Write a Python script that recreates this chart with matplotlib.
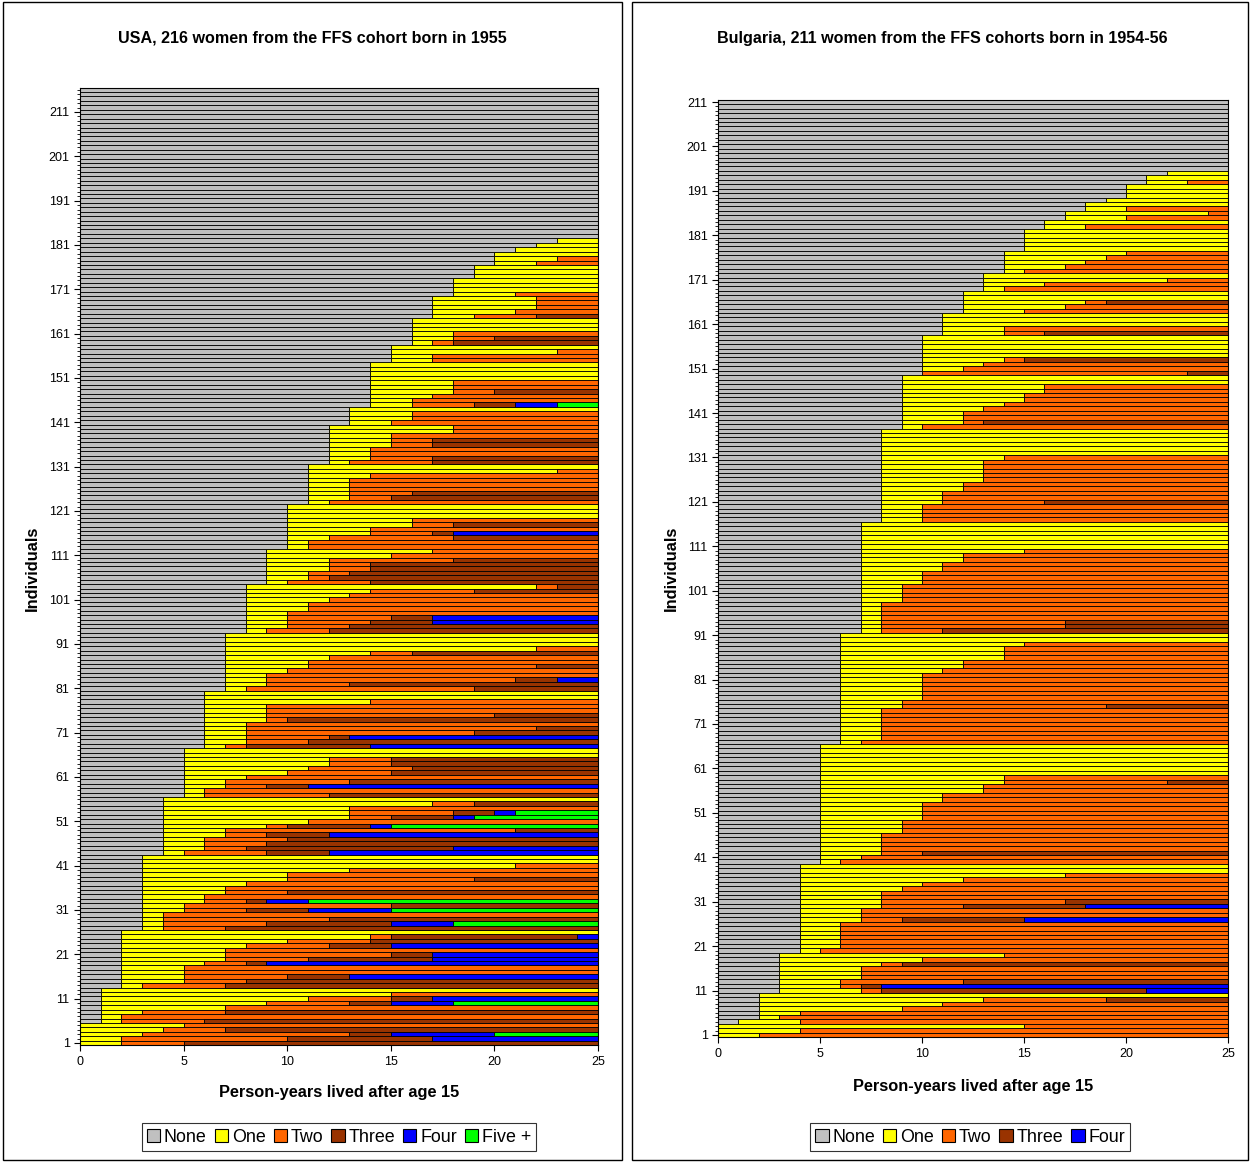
import matplotlib
matplotlib.use('Agg')
import matplotlib.pyplot as plt
from matplotlib.patches import Rectangle, Patch
import numpy as np

plt.rcParams['font.family'] = ['Liberation Sans', 'DejaVu Sans']

# parity states and colours
state_names = ['None', 'One', 'Two', 'Three', 'Four', 'Five +']
state_colors = ['#C0C0C0', '#FFFF00', '#FF6600', '#993300', '#0000FF', '#00FF00']

# USA: years after age 15 at each birth, one string per woman (row 1 upward)
usa_births = [
    "0 2 5", "0 2 10 17", "0 3 13 15 20", "0 4 7", "0 5",
    "1 2 6", "1 2", "1 3 7", "1 7", "1 9 13 15 18", "1 11 15 17", "1 15", "1",
    "2 3 7", "2 5 8", "2 5 10 13", "2 5", "2 5", "2 6 8 9", "2 7 11 17", "2 7 15 17",
    "2 7", "2 8 12 15", "2 10 14", "2 14 15 24", "2",
    "3 4 7", "3 4 9 15 18", "3 4 12", "3 4", "3 5 8 11 15", "3 5 15", "3 6 8 9 11",
    "3 6", "3 7 10", "3 7", "3 8", "3 10 19", "3 10", "3 13", "3 21", "3", "3",
    "4 5 9 12", "4 6 8 18", "4 6 9", "4 6 10", "4 7 9 12", "4 7 21", "4 9 10 14 15",
    "4 11", "4 13 15 18 19", "4 13 18 20 21", "4 13", "4 17 19", "4",
    "5 6 12", "5 6", "5 7 9 11", "5 7 13", "5 8", "5 10 15", "5 11 16", "5 12 15",
    "5 12 15", "5", "5",
    "6 7 8 14", "6 8 11", "6 8 12 13", "6 8 19", "6 8 22", "6 8", "6 9 10", "6 9 20",
    "6 9", "6 9", "6 14", "6", "6",
    "7 8 19", "7 9 13", "7 9 21 23", "7 9", "7 10", "7 11 22", "7 11", "7 12",
    "7 14 16", "7 22", "7", "7", "7",
    "8 9 12", "8 10 13", "8 10 14 17", "8 10 15 17", "8 10", "8 11", "8 11", "8 12",
    "8 13", "8 14 19", "8 22 23",
    "9 10 14", "9 11 12", "9 11 13", "9 12 14", "9 12 14", "9 12 18", "9 15", "9 17",
    "10 11", "10 11", "10 12 18", "10 14 17 18", "10 14", "10 16 18", "10 16",
    "10", "10", "10",
    "11 12", "11 13 15", "11 13 16", "11 13", "11 13", "11 13", "11 14", "11 23", "11",
    "12 13 17", "12 14 17", "12 14", "12 14", "12 15 17", "12 15 17", "12 15",
    "12 18", "12 18",
    "13 15", "13 16", "13 16", "13",
    "14 16 19 21 23", "14 16", "14 17", "14 18 20", "14 18", "14 18",
    "14", "14", "14", "14",
    "15 17", "15 17", "15 23", "15",
    "16 17 18", "16 18 20", "16 18", "16", "16", "16",
    "17 19 22", "17 21", "17 22", "17 22", "17 22",
    "18 21", "18", "18", "18",
    "19", "19", "19",
    "20 22", "20 23", "20", "21", "22", "23",
]
usa_childless = 34

# Bulgaria
bg_births = [
    "0 2", "0 4", "0 15", "1 4",
    "2 3", "2 4", "2 9", "2 11", "2 13 19", "2",
    "3 7 8 21", "3 6 7 8", "3 6 12", "3 7", "3 7", "3 7", "3 8 9", "3 10", "3 14",
    "4 5", "4 6", "4 6", "4 6", "4 6", "4 6", "4 6", "4 7 9 15", "4 7", "4 7",
    "4 8 12 18", "4 8 17", "4 8", "4 8", "4 9", "4 10", "4 12", "4 17", "4", "4",
    "5 6", "5 7", "5 8 10", "5 8", "5 8", "5 8", "5 8", "5 9", "5 9", "5 9",
    "5 10", "5 10", "5 10", "5 10", "5 11", "5 11", "5 13", "5 13", "5 14 22", "5 14",
    "5", "5", "5", "5", "5", "5", "5",
    "6 7", "6 8", "6 8", "6 8", "6 8", "6 8", "6 8", "6 8", "6 9 19", "6 9",
    "6 10", "6 10", "6 10", "6 10", "6 10", "6 10", "6 11", "6 12", "6 12",
    "6 14", "6 14", "6 14", "6 15", "6", "6",
    "7 8 11", "7 8 17", "7 8 17", "7 8", "7 8", "7 8", "7 8", "7 9", "7 9", "7 9",
    "7 9", "7 10", "7 10", "7 10", "7 11", "7 11", "7 12", "7 12", "7 15",
    "7", "7", "7", "7", "7", "7",
    "8 10", "8 10", "8 10", "8 10", "8 11 16", "8 11", "8 11", "8 12", "8 12",
    "8 13", "8 13", "8 13", "8 13", "8 13", "8 14", "8", "8", "8", "8", "8", "8",
    "9 10", "9 12 13", "9 12", "9 12", "9 13", "9 14", "9 15", "9 15", "9 16", "9 16",
    "9", "9",
    "10 10 23", "10 12", "10 13", "10 14 15", "10", "10", "10", "10", "10",
    "11 14 16", "11 14", "11", "11", "11",
    "12 15", "12 17", "12 18 19", "12", "12",
    "13 14", "13 16", "13 22", "13",
    "14 15", "14 17", "14 18", "14 19", "14 20",
    "15", "15", "15", "15", "15",
    "16 18", "16", "17 20", "17 24", "18 20", "18", "19",
    "20", "20", "20", "21 23", "21", "22",
]
bg_childless = 16

W, H = 1250, 1162


def parse(rows, n_none):
    out = [[float(v) for v in r.split()] for r in rows]
    return out + [[] for _ in range(n_none)]


def draw_panel(ax, births, n_states):
    for s in range(n_states):
        ys, lefts, widths = [], [], []
        for i, b in enumerate(births):
            edges = [0.0] + b + [25.0]
            if s >= len(edges) - 1:
                continue
            start = edges[s]
            end = edges[-1] if s == n_states - 1 else edges[s + 1]
            if end - start <= 0:
                continue
            ys.append(i + 1)
            lefts.append(start)
            widths.append(end - start)
        ax.barh(ys, widths, left=lefts, height=1.0, color=state_colors[s],
                edgecolor='black', linewidth=0.6)
    n = len(births)
    ax.set_xlim(0, 25)
    ax.set_ylim(0.5, n + 0.5)
    ax.set_xticks([0, 5, 10, 15, 20, 25])
    ax.set_yticks(np.arange(1, n + 1, 10))
    ax.set_yticks(np.arange(1, n + 1), minor=True)
    ax.tick_params(axis='both', labelsize=9, direction='out', length=4, width=0.8)
    ax.tick_params(axis='y', which='minor', length=2, width=0.6)
    for sp in ax.spines.values():
        sp.set_linewidth(0.8)


fig = plt.figure(figsize=(W / 100, H / 100), dpi=100)

usa = parse(usa_births, usa_childless)
bg = parse(bg_births, bg_childless)

# panel frames
fig.add_artist(Rectangle((3 / W, 2 / H), 619 / W, 1158 / H, transform=fig.transFigure,
                         fill=False, edgecolor='black', linewidth=1))
fig.add_artist(Rectangle((632 / W, 2 / H), 616 / W, 1158 / H, transform=fig.transFigure,
                         fill=False, edgecolor='black', linewidth=1))

ax1 = fig.add_axes([80 / W, (H - 1045.2) / H, 518 / W, 957.6 / H])
draw_panel(ax1, usa, 6)
ax2 = fig.add_axes([718 / W, (H - 1037.2) / H, 510 / W, 937.4 / H])
draw_panel(ax2, bg, 5)

# titles and labels
fig.text(312 / W, 1 - 38 / H, 'USA, 216 women from the FFS cohort born in 1955',
         ha='center', va='center', fontsize=11.6, fontweight='bold')
fig.text(942 / W, 1 - 38 / H, 'Bulgaria, 211 women from the FFS cohorts born in 1954-56',
         ha='center', va='center', fontsize=11.6, fontweight='bold')
fig.text(339 / W, 1 - 1093 / H, 'Person-years lived after age 15',
         ha='center', va='center', fontsize=11.8, fontweight='bold')
fig.text(973 / W, 1 - 1086 / H, 'Person-years lived after age 15',
         ha='center', va='center', fontsize=11.8, fontweight='bold')
fig.text(32 / W, 1 - 568 / H, 'Individuals', rotation=90,
         ha='center', va='center', fontsize=11.8, fontweight='bold')
fig.text(671 / W, 1 - 568 / H, 'Individuals', rotation=90,
         ha='center', va='center', fontsize=11.8, fontweight='bold')

# legends
for names, cx in [(state_names, 339), (state_names[:5], 970)]:
    handles = [Patch(facecolor=state_colors[i], edgecolor='black', linewidth=0.8, label=nm)
               for i, nm in enumerate(names)]
    leg = fig.legend(handles=handles, loc='center', bbox_to_anchor=(cx / W, 1 - 1137 / H),
                     ncol=len(names), fontsize=12.9, frameon=True, fancybox=False,
                     handlelength=0.75, handleheight=0.75, handletextpad=0.2,
                     columnspacing=0.45, borderpad=0.3, borderaxespad=0)
    leg.get_frame().set_edgecolor('black')
    leg.get_frame().set_linewidth(0.8)

fig.savefig('out.png', dpi=100)
